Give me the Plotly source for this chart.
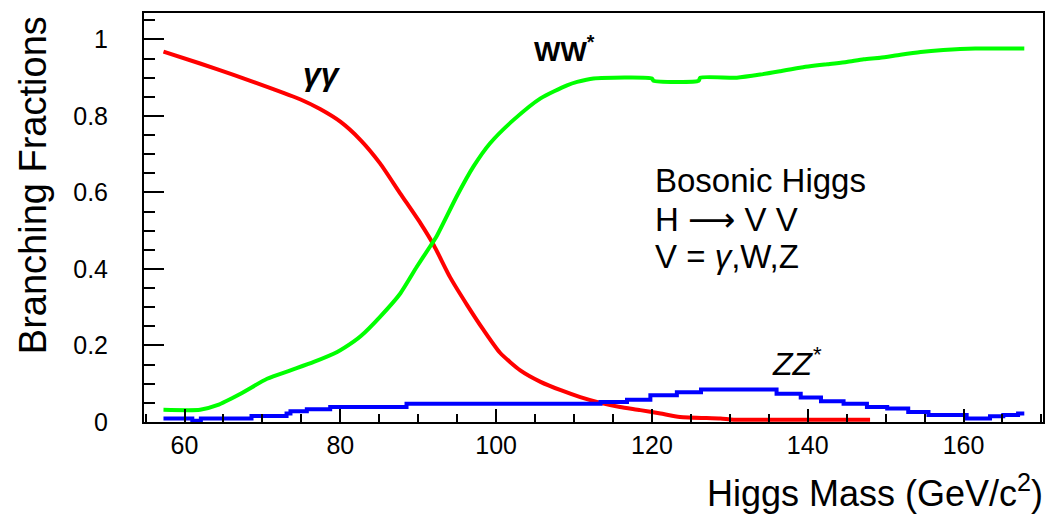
import plotly.graph_objects as go

# Higgs boson branching fractions into vector boson pairs
mass_gg = [57.3, 62.0, 66.3, 70.6, 74.9, 77.4, 80.0, 82.6, 85.1, 87.7, 90.3, 92.0,
           94.1, 96.3, 98.4, 100.5, 103.1, 105.7, 108.3, 110.8, 113.4, 115.9,
           118.5, 121.1, 123.6, 128.8, 130.5, 138.0, 148.0]
br_gg = [0.968, 0.937, 0.907, 0.876, 0.843, 0.818, 0.785, 0.737, 0.676, 0.597, 0.519, 0.462,
         0.378, 0.305, 0.240, 0.181, 0.135, 0.105, 0.083, 0.065, 0.050, 0.039,
         0.031, 0.022, 0.013, 0.009, 0.006, 0.006, 0.006]

mass_ww = [57.3, 62.0, 64.2, 67.2, 70.6, 73.6, 76.6, 79.6, 81.7, 82.6, 85.1, 87.7, 89.8,
           91.5, 92.4, 95.0, 97.1, 99.2, 102.2, 105.7, 109.1, 110.4, 112.5, 120.0, 120.2,
           126.0, 126.2, 130.9, 133.9, 136.5, 139.0, 142.5, 145.0, 147.2, 149.3, 151.9,
           154.5, 157.4, 161.5, 167.8]
br_ww = [0.032, 0.032, 0.044, 0.074, 0.113, 0.135, 0.157, 0.183, 0.210, 0.224, 0.275, 0.336,
         0.405, 0.458, 0.487, 0.592, 0.668, 0.728, 0.789, 0.846, 0.880, 0.889, 0.898, 0.898,
         0.892, 0.892, 0.900, 0.900, 0.908, 0.917, 0.926, 0.935, 0.941, 0.948, 0.952,
         0.960, 0.967, 0.972, 0.976, 0.976]

mass_zz = [57.3, 61.0, 62.1, 68.6, 73.1, 73.6, 75.7, 78.7, 88.5, 113.4, 116.8, 119.8,
           123.2, 126.3, 136.0, 139.1, 141.7, 144.6, 147.6, 150.2, 152.9, 155.5, 157.9,
           160.4, 163.4, 165.1, 167.0, 167.8]
br_zz = [0.009, 0.003, 0.009, 0.016, 0.022, 0.028, 0.033, 0.039, 0.048, 0.052, 0.058, 0.070,
         0.078, 0.085, 0.074, 0.064, 0.054, 0.048, 0.039, 0.035, 0.026, 0.018, 0.018,
         0.009, 0.015, 0.018, 0.022, 0.022]

x_ticks = [60, 80, 100, 120, 140, 160]
y_ticks = [0, 0.2, 0.4, 0.6, 0.8, 1]
y_tick_text = ["0", "0.2", "0.4", "0.6", "0.8", "1"]

FONT = "Liberation Sans, Arial, sans-serif"
ARROW = "<span style='font-family:DejaVu Sans;font-size:33px'>⟶</span>"

fig = go.Figure()
fig.add_trace(go.Scatter(x=mass_gg, y=br_gg, mode="lines",
                         line=dict(color="#ff0000", width=4, shape="spline", smoothing=0.6),
                         showlegend=False))
fig.add_trace(go.Scatter(x=mass_ww, y=br_ww, mode="lines",
                         line=dict(color="#00ff00", width=4, shape="spline", smoothing=0.6),
                         showlegend=False))
fig.add_trace(go.Scatter(x=mass_zz, y=br_zz, mode="lines",
                         line=dict(color="#0000ff", width=4, shape="hv"), showlegend=False))

axis_common = dict(showline=True, linecolor="black", linewidth=2, mirror=True,
                   showgrid=False, zeroline=False, ticks="inside", tickcolor="black",
                   tickwidth=2, tickfont=dict(family=FONT, size=25, color="black"))

fig.update_xaxes(range=[54.8, 170.2], tickvals=x_ticks, ticklen=13,
                 minor=dict(dtick=5, ticks="inside", ticklen=8, tickcolor="black", tickwidth=2),
                 ticklabelstandoff=0, **axis_common)
fig.update_yaxes(range=[0, 1.069], tickvals=y_ticks, ticktext=y_tick_text, ticklen=20,
                 minor=dict(dtick=0.05, ticks="inside", ticklen=11, tickcolor="black", tickwidth=2),
                 ticklabelstandoff=29, **axis_common)

annotations = [
    dict(x=77.7, y=0.909, text="<b><i>γγ</i></b>", font=dict(family=FONT, size=32),
         xanchor="center", yanchor="middle", showarrow=False),
    dict(x=104.6, y=0.975, text="<b>WW<sup>*</sup></b>", font=dict(family=FONT, size=28),
         xanchor="left", yanchor="middle", showarrow=False),
    dict(x=135.2, y=0.158, text="<i>ZZ<sup>*</sup></i>", font=dict(family=FONT, size=32),
         xanchor="left", yanchor="middle", showarrow=False),
    dict(x=120.1, y=0.630, text="Bosonic Higgs", font=dict(family=FONT, size=33),
         xanchor="left", yanchor="middle", showarrow=False),
    dict(x=120.1, y=0.530, text="H " + ARROW + " V V", font=dict(family=FONT, size=33),
         xanchor="left", yanchor="middle", showarrow=False),
    dict(x=120.1, y=0.433, text="V = <i>γ</i>,W,Z", font=dict(family=FONT, size=33),
         xanchor="left", yanchor="middle", showarrow=False),
    dict(xref="paper", yref="paper", x=-0.1235, y=0.579, text="Branching Fractions",
         textangle=-90, font=dict(family=FONT, size=38), xanchor="center",
         yanchor="middle", showarrow=False),
    dict(xref="paper", yref="paper", x=1.002, y=-0.168, text="Higgs Mass (GeV/c<sup>2</sup>)",
         font=dict(family=FONT, size=36), xanchor="right", yanchor="middle",
         showarrow=False),
]
for a in annotations:
    a["font"]["color"] = "black"

fig.update_layout(width=1057, height=518, margin=dict(l=144, r=14, t=13, b=96),
                  paper_bgcolor="white", plot_bgcolor="white",
                  annotations=annotations)

fig.write_html("out.html")
